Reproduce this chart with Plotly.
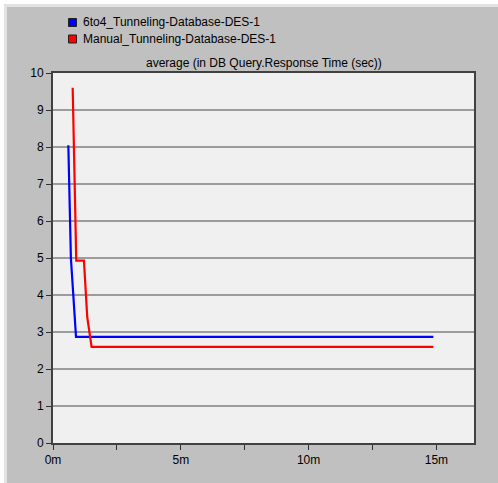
import plotly.graph_objects as go

# Series: average DB query response time (sec) vs simulation time (minutes)
series_names = ["6to4_Tunneling-Database-DES-1", "Manual_Tunneling-Database-DES-1"]
series_colors = ["#0000ff", "#ff0000"]

t_6to4 = [0.60, 0.70, 0.78, 0.90, 14.88]
v_6to4 = [8.05, 5.0, 4.15, 2.87, 2.87]

t_manual = [0.77, 0.91, 1.21, 1.34, 1.51, 14.88]
v_manual = [9.60, 4.93, 4.93, 3.40, 2.60, 2.60]

x_tick_vals = [0, 2.5, 5, 7.5, 10, 12.5, 15]
x_tick_text = ["0m", "", "5m", "", "10m", "", "15m"]
y_tick_vals = [0, 1, 2, 3, 4, 5, 6, 7, 8, 9, 10]

chart_title = "average (in DB Query.Response Time (sec))"

W, H = 498, 483
L, R, T, B = 53, 474, 73, 443  # plot area in pixels


def px(x):
    return (x - L) / (R - L)


def py(y):
    return (B - y) / (B - T)


fig = go.Figure()
for name, color, t, v in [
    (series_names[0], series_colors[0], t_6to4, v_6to4),
    (series_names[1], series_colors[1], t_manual, v_manual),
]:
    fig.add_trace(go.Scatter(x=t, y=v, mode="lines", name=name,
                             line=dict(color=color, width=2.2),
                             showlegend=False))

shapes = [
    # white border strips with a light bevel on the top and left edges
    dict(type="rect", xref="paper", yref="paper", x0=px(0), x1=px(W), y0=py(0), y1=py(4),
         fillcolor="white", line_width=0, layer="below"),
    dict(type="rect", xref="paper", yref="paper", x0=px(0), x1=px(4), y0=py(0), y1=py(H),
         fillcolor="white", line_width=0, layer="below"),
    dict(type="rect", xref="paper", yref="paper", x0=px(4), x1=px(W), y0=py(4), y1=py(7),
         fillcolor="#e2e2e2", line_width=0, layer="below"),
    dict(type="rect", xref="paper", yref="paper", x0=px(4), x1=px(7), y0=py(4), y1=py(H),
         fillcolor="#e2e2e2", line_width=0, layer="below"),
]

annotations = []
legend_rows = [22.5, 39.0]
for name, color, yrow in zip(series_names, series_colors, legend_rows):
    shapes.append(dict(type="rect", xref="paper", yref="paper",
                       x0=px(68.5), x1=px(76.5), y0=py(yrow + 4), y1=py(yrow - 4),
                       fillcolor=color, line=dict(color="#202020", width=1)))
    annotations.append(dict(xref="paper", yref="paper", x=px(81), y=py(yrow),
                            text=name, showarrow=False, xanchor="left", yanchor="middle",
                            font=dict(size=12, color="black")))

annotations.append(dict(xref="paper", yref="paper", x=px((L + R) / 2), y=py(63),
                        text=chart_title, showarrow=False, xanchor="center", yanchor="middle",
                        font=dict(size=12, color="black")))

fig.update_layout(
    width=W, height=H,
    margin=dict(l=L, r=W - R, t=T, b=H - B, pad=0),
    paper_bgcolor="#c0c0c0",
    plot_bgcolor="#f0f0f0",
    font=dict(family="Liberation Sans, Arial, sans-serif", size=12, color="black"),
    showlegend=False,
    shapes=shapes,
    annotations=annotations,
)

fig.update_xaxes(
    range=[0, 16.47], tickvals=x_tick_vals, ticktext=x_tick_text,
    ticks="outside", ticklen=5, tickcolor="#303030", tickwidth=1,
    showgrid=False, zeroline=False,
    showline=True, linecolor="#404040", linewidth=2, mirror=True,
    fixedrange=True,
)
fig.update_yaxes(
    range=[0, 10], tickvals=y_tick_vals,
    ticks="outside", ticklen=5, tickcolor="#303030", tickwidth=1,
    showgrid=True, gridcolor="#9c9c9c", gridwidth=1.5, zeroline=False,
    showline=True, linecolor="#404040", linewidth=2, mirror=True,
    fixedrange=True,
)

fig.write_html("out.html")
